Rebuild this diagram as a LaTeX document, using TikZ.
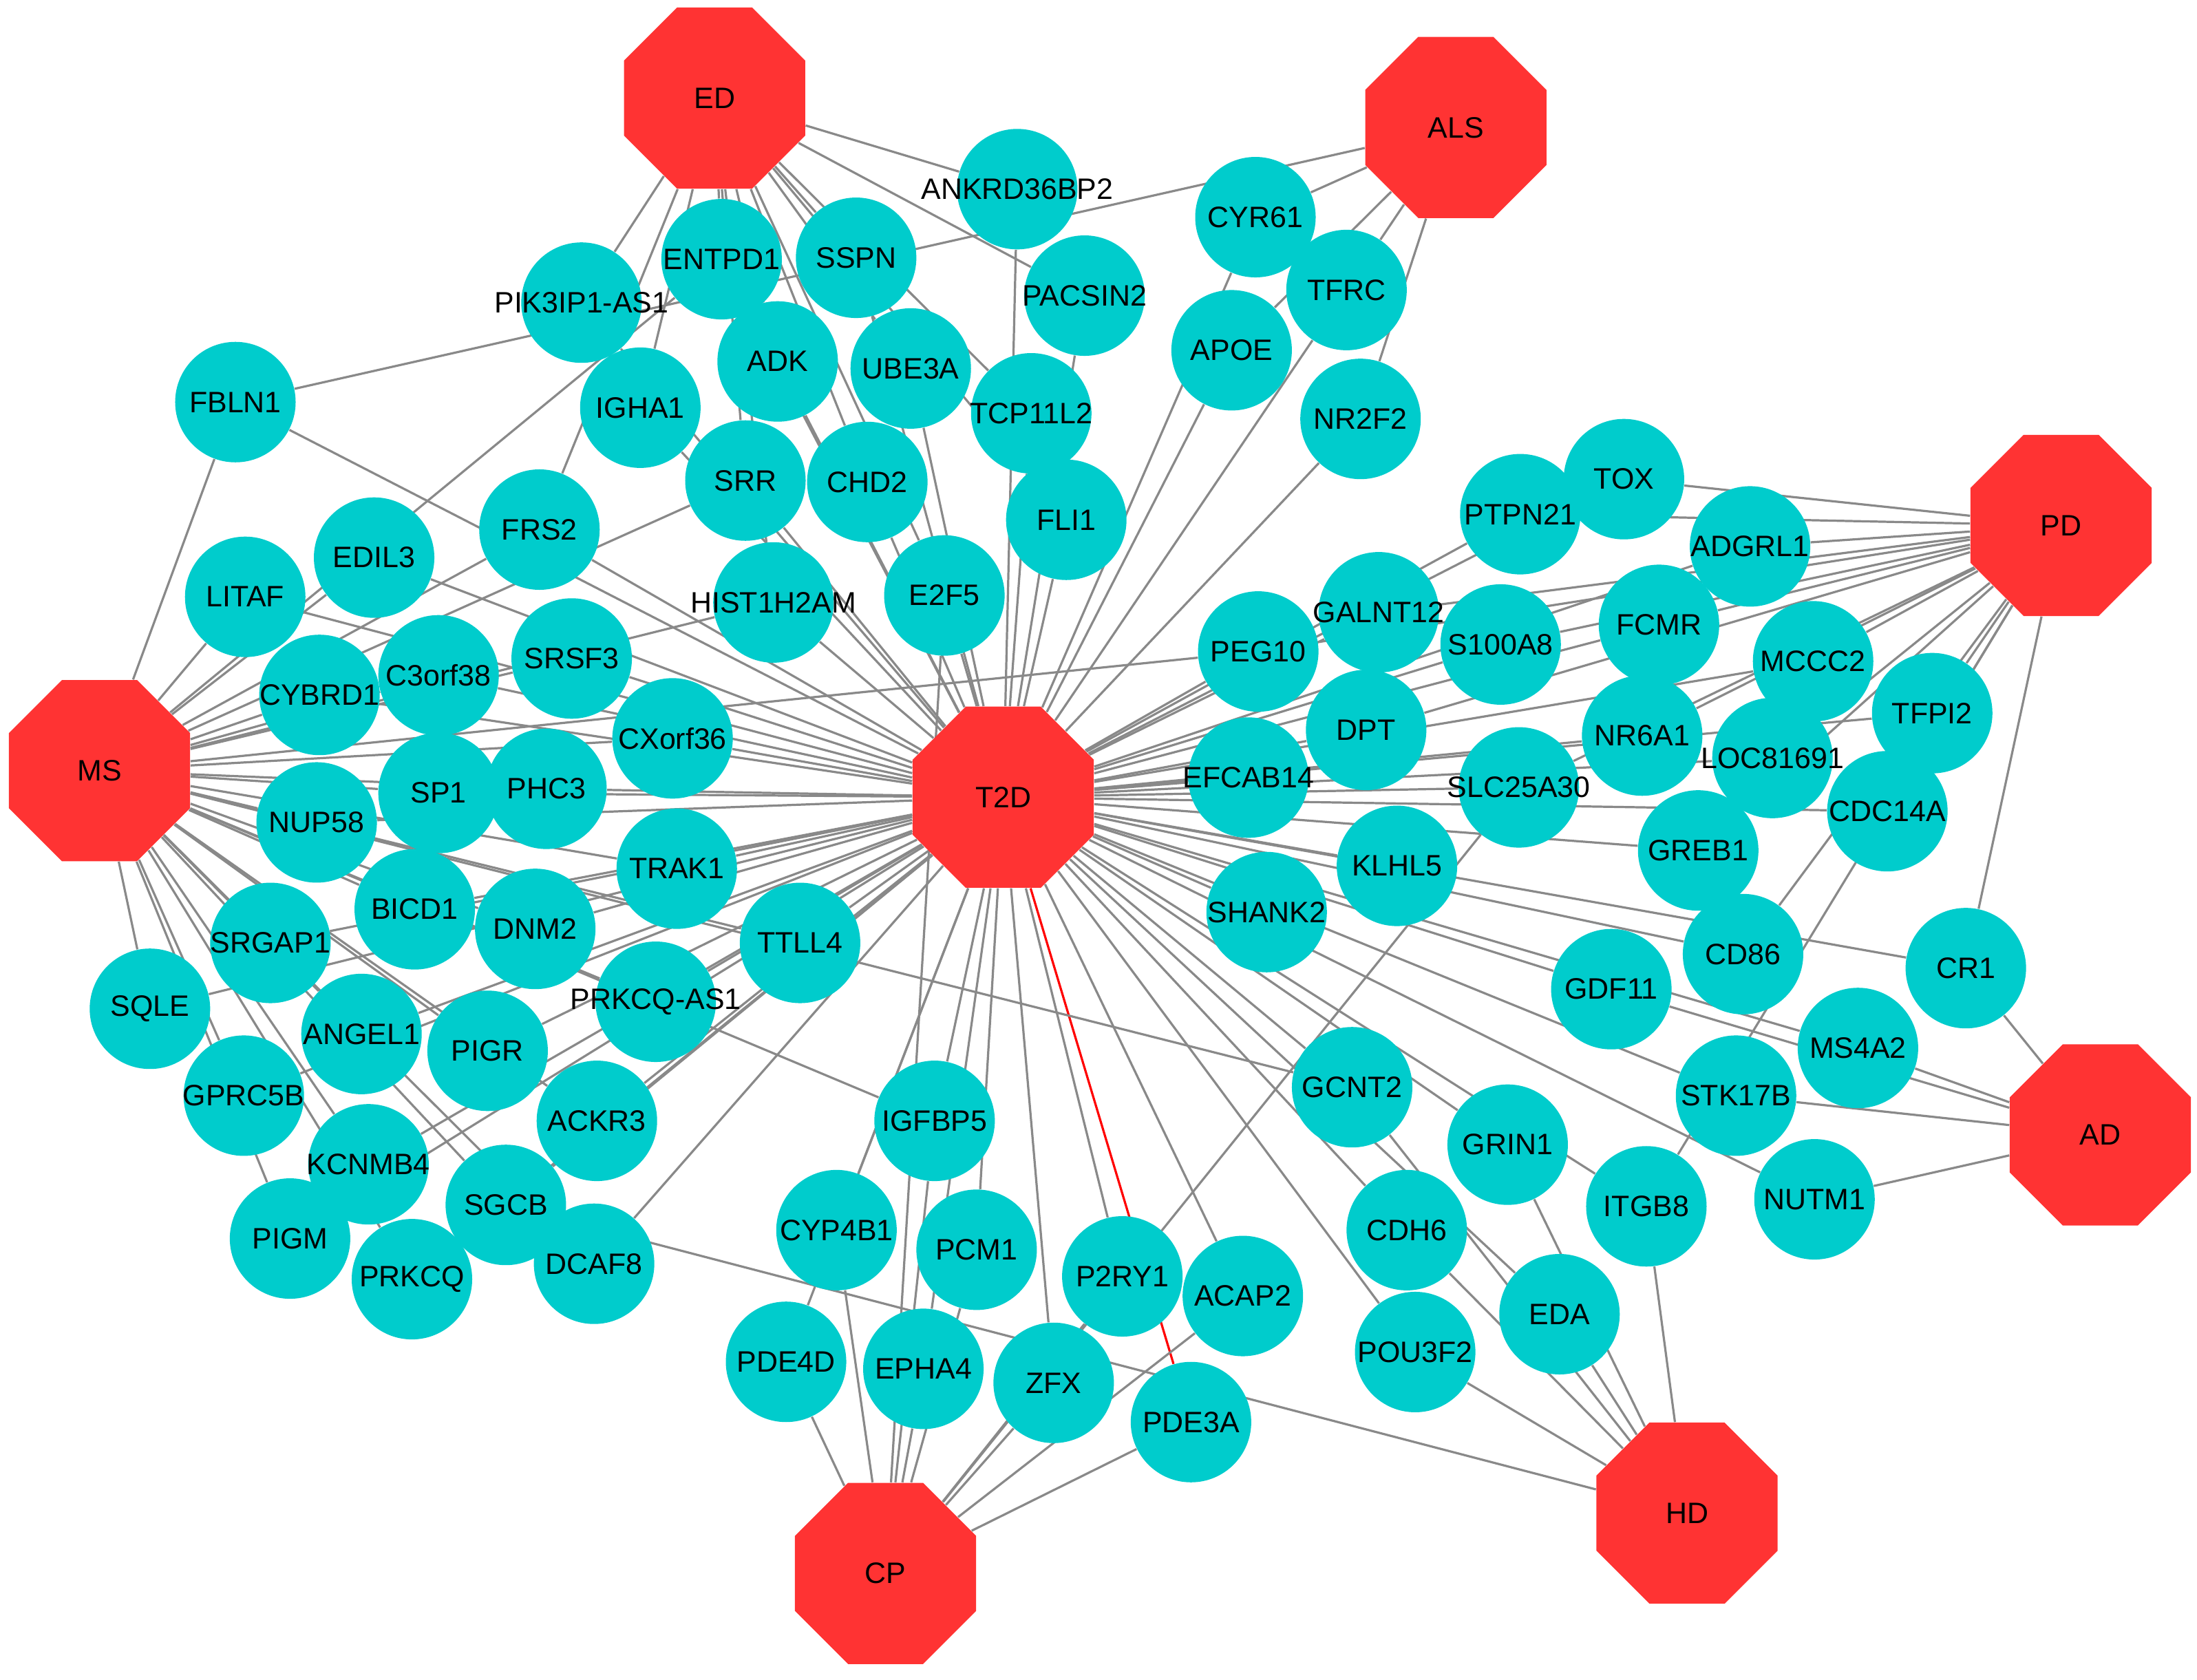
\documentclass[tikz,border=0pt]{standalone}
\usepackage{fontspec}
\setmainfont{Liberation Sans}
\usetikzlibrary{shapes.geometric, backgrounds}
\definecolor{cgene}{HTML}{00CCCC}
\definecolor{cdis}{HTML}{FF3333}
\definecolor{cedge}{HTML}{898989}
\tikzset{
  every picture/.style={font=\fontsize{12}{14}\selectfont},
  gene/.style={circle, fill=cgene, minimum size=1.72cm, inner sep=0pt},
  disease/.style={regular polygon, regular polygon sides=8, fill=cdis, minimum size=2.8cm, inner sep=0pt},
  edge/.style={draw=cedge, line width=0.9pt},
  hilite/.style={draw=red, line width=0.9pt},
}
\begin{document}
\begin{tikzpicture}[x=0.02cm, y=-0.02cm]
\useasboundingbox (0,0) rectangle (1568,1199);
% diseases
\foreach \n/\x/\y in {ED/510/70, ALS/1039/91, PD/1471/375, MS/71/550, T2D/716/569, AD/1499/810, HD/1204/1080, CP/632/1123}
  \node[disease] (\n) at (\x,\y) {\n};
% genes
\foreach \n/\x/\y/\lbl in {
  ANKRD/726/135/ANKRD36BP2, CYR61/896/155/CYR61, ENTPD1/515/185/ENTPD1, SSPN/611/184/SSPN,
  PIKAS/415/216/PIK3IP1-AS1, PACSIN2/774/211/PACSIN2, TFRC/961/207/TFRC, FBLN1/168/287/FBLN1,
  ADK/555/258/ADK, UBE3A/650/263/UBE3A, APOE/879/250/APOE, IGHA1/457/291/IGHA1,
  TCP11L2/736/295/TCP11L2, NR2F2/971/299/NR2F2, SRR/532/343/SRR, CHD2/619/344/CHD2,
  FLI1/761/371/FLI1, TOX/1159/342/TOX, PTPN21/1085/367/PTPN21, ADGRL1/1249/390/ADGRL1,
  FRS2/385/378/FRS2, EDIL3/267/398/EDIL3, LITAF/175/426/LITAF, HIST/552/430/HIST1H2AM,
  E2F5/674/425/E2F5, GALNT12/984/437/GALNT12, PEG10/898/465/PEG10, S100A8/1071/460/S100A8,
  FCMR/1184/446/FCMR, MCCC2/1294/472/MCCC2, TFPI2/1379/509/TFPI2, C3orf38/313/482/C3orf38,
  CYBRD1/228/496/CYBRD1, SRSF3/408/470/SRSF3, CXorf36/480/527/CXorf36, DPT/975/521/DPT,
  NR6A1/1172/525/NR6A1, LOC/1265/541/LOC81691, CDC14A/1347/579/CDC14A, EFCAB14/891/555/EFCAB14,
  SLC/1084/562/SLC25A30, SP1/313/566/SP1, PHC3/390/563/PHC3, NUP58/226/587/NUP58,
  GREB1/1212/607/GREB1, TRAK1/483/620/TRAK1, KLHL5/997/618/KLHL5, SHANK2/904/651/SHANK2,
  BICD1/296/649/BICD1, DNM2/382/663/DNM2, SRGAP1/193/673/SRGAP1, TTLL4/571/673/TTLL4,
  CD86/1244/681/CD86, CR1/1403/691/CR1, GDF11/1150/706/GDF11, SQLE/107/720/SQLE,
  PRKCQAS/468/715/PRKCQ-AS1, ANGEL1/258/738/ANGEL1, PIGR/348/750/PIGR, MS4A2/1326/748/MS4A2,
  GCNT2/965/776/GCNT2, STK17B/1239/782/STK17B, GPRC5B/174/782/GPRC5B, IGFBP5/667/800/IGFBP5,
  ACKR3/426/800/ACKR3, GRIN1/1076/817/GRIN1, KCNMB4/263/831/KCNMB4, SGCB/361/860/SGCB,
  ITGB8/1175/861/ITGB8, NUTM1/1295/856/NUTM1, CDH6/1004/878/CDH6, PIGM/207/884/PIGM,
  CYP4B1/597/878/CYP4B1, PCM1/697/892/PCM1, P2RY1/801/911/P2RY1, ACAP2/887/925/ACAP2,
  PRKCQ/294/913/PRKCQ, DCAF8/424/902/DCAF8, EDA/1113/938/EDA, POU3F2/1010/965/POU3F2,
  PDE4D/561/972/PDE4D, EPHA4/659/977/EPHA4, ZFX/752/987/ZFX, PDE3A/850/1015/PDE3A}
  \node[gene] (\n) at (\x,\y) {\makebox[0pt]{\lbl}};
% links
\begin{scope}[on background layer]
  \foreach \g in {ANKRD, CYR61, ENTPD1, SSPN, PIKAS, PACSIN2, TFRC, FBLN1, ADK, UBE3A, APOE, IGHA1,
    TCP11L2, NR2F2, SRR, CHD2, FLI1, TOX, PTPN21, ADGRL1, FRS2, EDIL3, LITAF, HIST, E2F5, GALNT12,
    PEG10, S100A8, FCMR, MCCC2, TFPI2, C3orf38, CYBRD1, SRSF3, CXorf36, DPT, NR6A1, LOC, CDC14A,
    EFCAB14, SLC, SP1, PHC3, NUP58, GREB1, TRAK1, KLHL5, SHANK2, BICD1, DNM2, SRGAP1, TTLL4, CD86,
    CR1, GDF11, SQLE, PRKCQAS, ANGEL1, PIGR, MS4A2, GCNT2, STK17B, GPRC5B, IGFBP5, ACKR3, GRIN1,
    KCNMB4, SGCB, ITGB8, NUTM1, CDH6, PIGM, CYP4B1, PCM1, P2RY1, ACAP2, PRKCQ, DCAF8, EDA, POU3F2,
    PDE4D, EPHA4, ZFX}
    \draw[edge] (T2D) -- (\g);
  \draw[hilite] (T2D) -- (PDE3A);
  \foreach \g in {PIKAS, FRS2, IGHA1, ENTPD1, SRR, ADK, HIST, CHD2, E2F5, UBE3A, SSPN, TCP11L2,
    FLI1, PACSIN2, ANKRD}
    \draw[edge] (ED) -- (\g);
  \foreach \g in {FBLN1, CYR61, APOE, TFRC, NR2F2}
    \draw[edge] (ALS) -- (\g);
  \foreach \g in {TOX, PTPN21, ADGRL1, GALNT12, S100A8, FCMR, MCCC2, NR6A1, LOC, TFPI2, CDC14A,
    DPT, SLC, PEG10, GREB1, CD86, ITGB8, CR1}
    \draw[edge] (PD) -- (\g);
  \foreach \g in {FBLN1, ENTPD1, LITAF, EDIL3, CYBRD1, C3orf38, FRS2, SRSF3, CXorf36, SP1,
    PHC3, NUP58, TRAK1, BICD1, DNM2, SRGAP1, TTLL4, PRKCQAS, SQLE, GPRC5B, ANGEL1, PIGR, KCNMB4,
    SGCB, PIGM, PRKCQ, ACKR3, DCAF8, PEG10, IGFBP5, GCNT2, HIST, SRR}
    \draw[edge] (MS) -- (\g);
  \foreach \g in {CR1, MS4A2, GDF11, STK17B, NUTM1}
    \draw[edge] (AD) -- (\g);
  \foreach \g in {ITGB8, GRIN1, EDA, GCNT2, CDH6, POU3F2, SGCB}
    \draw[edge] (HD) -- (\g);
  \foreach \g in {PDE4D, CYP4B1, E2F5, IGFBP5, PCM1, EPHA4, ZFX, P2RY1, SLC, ACAP2, PDE3A}
    \draw[edge] (CP) -- (\g);
\end{scope}
\end{tikzpicture}
\end{document}
